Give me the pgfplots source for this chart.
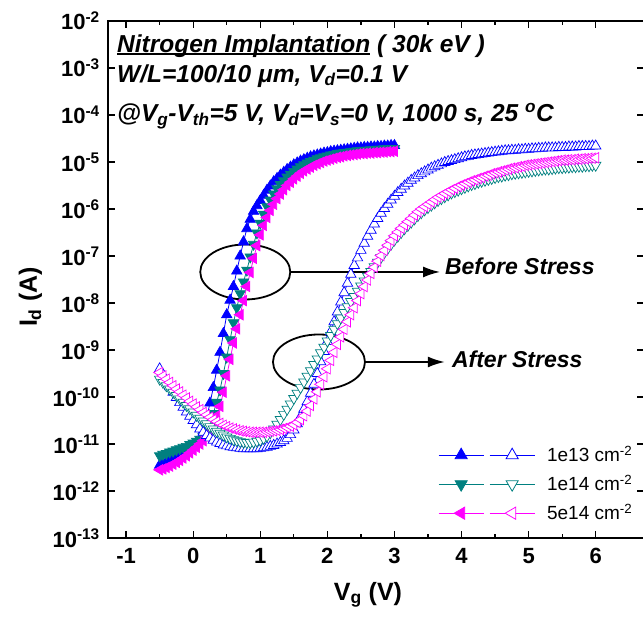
\documentclass[border=0pt]{standalone}
\usepackage{fontspec}
\setmainfont{Liberation Sans}
\usepackage{pgfplots}
\usepackage{pgfplotstable}
\pgfplotsset{compat=1.18}
\usetikzlibrary{arrows.meta}
\definecolor{cblue}{RGB}{0,0,255}
\definecolor{cteal}{RGB}{0,128,128}
\definecolor{cmag}{RGB}{255,0,255}
\newcommand\ulnit[1]{\setbox0\hbox{#1}\rlap{\rule[-3pt]{\wd0}{1.6pt}}\box0\relax}

% log10(Id) vs Vg, before stress (filled) and after stress (open)
\pgfplotstableread{
x y
-0.50 -11.45
-0.45 -11.41
-0.40 -11.38
-0.35 -11.34
-0.30 -11.30
-0.25 -11.26
-0.20 -11.22
-0.15 -11.17
-0.10 -11.12
-0.05 -11.07
0.00 -11.02
0.05 -10.97
0.10 -10.90
0.15 -10.72
0.20 -10.45
0.25 -10.13
0.30 -9.80
0.35 -9.43
0.40 -9.05
0.45 -8.65
0.50 -8.25
0.55 -7.94
0.60 -7.65
0.65 -7.32
0.70 -7.00
0.75 -6.70
0.80 -6.42
0.85 -6.22
0.90 -6.05
0.95 -5.93
1.00 -5.82
1.05 -5.71
1.10 -5.60
1.15 -5.51
1.20 -5.42
1.25 -5.35
1.30 -5.28
1.35 -5.22
1.40 -5.16
1.45 -5.11
1.50 -5.06
1.55 -5.02
1.60 -4.98
1.65 -4.95
1.70 -4.92
1.75 -4.89
1.80 -4.87
1.85 -4.85
1.90 -4.83
1.95 -4.81
2.00 -4.80
2.05 -4.78
2.10 -4.77
2.15 -4.76
2.20 -4.75
2.25 -4.74
2.30 -4.73
2.35 -4.72
2.40 -4.71
2.45 -4.70
2.50 -4.70
2.55 -4.69
2.60 -4.69
2.65 -4.68
2.70 -4.68
2.75 -4.67
2.80 -4.67
2.85 -4.66
2.90 -4.66
2.95 -4.65
3.00 -4.65
}\bfil
\pgfplotstableread{
x y
-0.50 -11.25
-0.45 -11.22
-0.40 -11.20
-0.35 -11.17
-0.30 -11.15
-0.25 -11.12
-0.20 -11.10
-0.15 -11.07
-0.10 -11.05
-0.05 -11.01
0.00 -10.98
0.05 -10.94
0.10 -10.90
0.15 -10.84
0.20 -10.75
0.25 -10.57
0.30 -10.35
0.35 -10.11
0.40 -9.85
0.45 -9.50
0.50 -9.15
0.55 -8.78
0.60 -8.42
0.65 -8.10
0.70 -7.80
0.75 -7.55
0.80 -7.30
0.85 -7.02
0.90 -6.75
0.95 -6.51
1.00 -6.30
1.05 -6.11
1.10 -5.95
1.15 -5.81
1.20 -5.68
1.25 -5.57
1.30 -5.48
1.35 -5.40
1.40 -5.32
1.45 -5.26
1.50 -5.20
1.55 -5.15
1.60 -5.10
1.65 -5.06
1.70 -5.02
1.75 -4.99
1.80 -4.96
1.85 -4.93
1.90 -4.91
1.95 -4.89
2.00 -4.87
2.05 -4.85
2.10 -4.84
2.15 -4.82
2.20 -4.81
2.25 -4.80
2.30 -4.79
2.35 -4.78
2.40 -4.77
2.45 -4.76
2.50 -4.76
2.55 -4.75
2.60 -4.75
2.65 -4.74
2.70 -4.74
2.75 -4.73
2.80 -4.73
2.85 -4.72
2.90 -4.72
2.95 -4.71
3.00 -4.71
}\tfil
\pgfplotstableread{
x y
-0.50 -11.55
-0.45 -11.53
-0.40 -11.50
-0.35 -11.47
-0.30 -11.43
-0.25 -11.39
-0.20 -11.35
-0.15 -11.30
-0.10 -11.25
-0.05 -11.19
0.00 -11.13
0.05 -11.07
0.10 -11.00
0.15 -10.93
0.20 -10.85
0.25 -10.72
0.30 -10.55
0.35 -10.40
0.40 -10.20
0.45 -9.90
0.50 -9.55
0.55 -9.20
0.60 -8.85
0.65 -8.55
0.70 -8.25
0.75 -7.95
0.80 -7.65
0.85 -7.35
0.90 -7.05
0.95 -6.78
1.00 -6.55
1.05 -6.35
1.10 -6.18
1.15 -6.03
1.20 -5.90
1.25 -5.78
1.30 -5.68
1.35 -5.59
1.40 -5.50
1.45 -5.43
1.50 -5.36
1.55 -5.30
1.60 -5.24
1.65 -5.19
1.70 -5.15
1.75 -5.11
1.80 -5.07
1.85 -5.04
1.90 -5.01
1.95 -4.98
2.00 -4.96
2.05 -4.94
2.10 -4.92
2.15 -4.90
2.20 -4.89
2.25 -4.87
2.30 -4.86
2.35 -4.85
2.40 -4.84
2.45 -4.83
2.50 -4.82
2.55 -4.82
2.60 -4.81
2.65 -4.81
2.70 -4.80
2.75 -4.80
2.80 -4.79
2.85 -4.79
2.90 -4.78
2.95 -4.78
3.00 -4.77
}\mfil
\pgfplotstableread{
x y
-0.50 -9.40
-0.45 -9.53
-0.40 -9.65
-0.35 -9.78
-0.30 -9.90
-0.25 -10.01
-0.20 -10.12
-0.15 -10.22
-0.10 -10.32
-0.05 -10.41
0.00 -10.50
0.05 -10.59
0.10 -10.68
0.15 -10.75
0.20 -10.82
0.25 -10.87
0.30 -10.92
0.35 -10.96
0.40 -10.99
0.45 -11.02
0.50 -11.04
0.55 -11.06
0.60 -11.07
0.65 -11.08
0.70 -11.09
0.75 -11.10
0.80 -11.10
0.85 -11.10
0.90 -11.10
0.95 -11.10
1.00 -11.09
1.05 -11.08
1.10 -11.07
1.15 -11.05
1.20 -11.03
1.25 -11.00
1.30 -10.97
1.35 -10.93
1.40 -10.88
1.45 -10.80
1.50 -10.70
1.55 -10.57
1.60 -10.42
1.65 -10.26
1.70 -10.10
1.75 -9.92
1.80 -9.73
1.85 -9.50
1.90 -9.25
1.95 -9.03
2.00 -8.82
2.05 -8.61
2.10 -8.40
2.15 -8.19
2.20 -7.98
2.25 -7.78
2.30 -7.58
2.35 -7.39
2.40 -7.20
2.45 -7.04
2.50 -6.88
2.55 -6.73
2.60 -6.58
2.65 -6.45
2.70 -6.32
2.75 -6.20
2.80 -6.09
2.85 -5.99
2.90 -5.90
2.95 -5.81
3.00 -5.73
3.05 -5.65
3.10 -5.58
3.15 -5.51
3.20 -5.45
3.25 -5.39
3.30 -5.34
3.35 -5.29
3.40 -5.25
3.45 -5.21
3.50 -5.17
3.55 -5.13
3.60 -5.10
3.65 -5.07
3.70 -5.04
3.75 -5.01
3.80 -4.99
3.85 -4.97
3.90 -4.95
3.95 -4.93
4.00 -4.91
4.05 -4.89
4.10 -4.88
4.15 -4.86
4.20 -4.85
4.25 -4.84
4.30 -4.83
4.35 -4.82
4.40 -4.81
4.45 -4.80
4.50 -4.79
4.55 -4.78
4.60 -4.77
4.65 -4.76
4.70 -4.76
4.75 -4.75
4.80 -4.75
4.85 -4.74
4.90 -4.74
4.95 -4.73
5.00 -4.73
5.05 -4.72
5.10 -4.72
5.15 -4.71
5.20 -4.71
5.25 -4.70
5.30 -4.70
5.35 -4.70
5.40 -4.70
5.45 -4.69
5.50 -4.69
5.55 -4.69
5.60 -4.68
5.65 -4.68
5.70 -4.68
5.75 -4.67
5.80 -4.67
5.85 -4.67
5.90 -4.67
5.95 -4.66
6.00 -4.66
}\bope
\pgfplotstableread{
x y
-0.50 -9.62
-0.45 -9.69
-0.40 -9.76
-0.35 -9.83
-0.30 -9.90
-0.25 -9.97
-0.20 -10.04
-0.15 -10.11
-0.10 -10.18
-0.05 -10.25
0.00 -10.32
0.05 -10.39
0.10 -10.45
0.15 -10.51
0.20 -10.57
0.25 -10.63
0.30 -10.68
0.35 -10.73
0.40 -10.77
0.45 -10.81
0.50 -10.85
0.55 -10.88
0.60 -10.91
0.65 -10.93
0.70 -10.95
0.75 -10.96
0.80 -10.97
0.85 -10.97
0.90 -10.96
0.95 -10.94
1.00 -10.92
1.05 -10.88
1.10 -10.83
1.15 -10.76
1.20 -10.68
1.25 -10.58
1.30 -10.48
1.35 -10.37
1.40 -10.26
1.45 -10.15
1.50 -10.03
1.55 -9.92
1.60 -9.80
1.65 -9.68
1.70 -9.56
1.75 -9.44
1.80 -9.31
1.85 -9.19
1.90 -9.06
1.95 -8.94
2.00 -8.81
2.05 -8.69
2.10 -8.56
2.15 -8.44
2.20 -8.32
2.25 -8.20
2.30 -8.08
2.35 -7.97
2.40 -7.86
2.45 -7.75
2.50 -7.64
2.55 -7.53
2.60 -7.43
2.65 -7.33
2.70 -7.23
2.75 -7.13
2.80 -7.03
2.85 -6.93
2.90 -6.84
2.95 -6.75
3.00 -6.66
3.05 -6.58
3.10 -6.50
3.15 -6.42
3.20 -6.35
3.25 -6.28
3.30 -6.21
3.35 -6.14
3.40 -6.08
3.45 -6.02
3.50 -5.97
3.55 -5.92
3.60 -5.87
3.65 -5.82
3.70 -5.78
3.75 -5.74
3.80 -5.70
3.85 -5.66
3.90 -5.63
3.95 -5.60
4.00 -5.57
4.05 -5.54
4.10 -5.51
4.15 -5.48
4.20 -5.46
4.25 -5.43
4.30 -5.41
4.35 -5.39
4.40 -5.37
4.45 -5.35
4.50 -5.33
4.55 -5.31
4.60 -5.30
4.65 -5.28
4.70 -5.27
4.75 -5.25
4.80 -5.24
4.85 -5.23
4.90 -5.22
4.95 -5.21
5.00 -5.20
5.05 -5.19
5.10 -5.18
5.15 -5.17
5.20 -5.16
5.25 -5.15
5.30 -5.15
5.35 -5.14
5.40 -5.13
5.45 -5.12
5.50 -5.12
5.55 -5.11
5.60 -5.11
5.65 -5.10
5.70 -5.10
5.75 -5.09
5.80 -5.09
5.85 -5.08
5.90 -5.08
5.95 -5.07
6.00 -5.07
}\tope
\pgfplotstableread{
x y
-0.50 -9.48
-0.45 -9.55
-0.40 -9.62
-0.35 -9.69
-0.30 -9.76
-0.25 -9.83
-0.20 -9.89
-0.15 -9.96
-0.10 -10.02
-0.05 -10.09
0.00 -10.15
0.05 -10.21
0.10 -10.27
0.15 -10.33
0.20 -10.38
0.25 -10.43
0.30 -10.48
0.35 -10.52
0.40 -10.56
0.45 -10.60
0.50 -10.63
0.55 -10.66
0.60 -10.68
0.65 -10.70
0.70 -10.72
0.75 -10.73
0.80 -10.74
0.85 -10.75
0.90 -10.75
0.95 -10.75
1.00 -10.75
1.05 -10.75
1.10 -10.74
1.15 -10.73
1.20 -10.72
1.25 -10.71
1.30 -10.69
1.35 -10.67
1.40 -10.65
1.45 -10.62
1.50 -10.59
1.55 -10.54
1.60 -10.48
1.65 -10.40
1.70 -10.30
1.75 -10.18
1.80 -10.04
1.85 -9.89
1.90 -9.73
1.95 -9.57
2.00 -9.40
2.05 -9.22
2.10 -9.05
2.15 -8.88
2.20 -8.72
2.25 -8.56
2.30 -8.40
2.35 -8.25
2.40 -8.10
2.45 -7.95
2.50 -7.80
2.55 -7.65
2.60 -7.51
2.65 -7.37
2.70 -7.24
2.75 -7.11
2.80 -6.99
2.85 -6.88
2.90 -6.77
2.95 -6.67
3.00 -6.57
3.05 -6.49
3.10 -6.41
3.15 -6.34
3.20 -6.27
3.25 -6.20
3.30 -6.13
3.35 -6.06
3.40 -6.00
3.45 -5.95
3.50 -5.90
3.55 -5.85
3.60 -5.80
3.65 -5.75
3.70 -5.71
3.75 -5.67
3.80 -5.63
3.85 -5.59
3.90 -5.56
3.95 -5.52
4.00 -5.49
4.05 -5.46
4.10 -5.43
4.15 -5.40
4.20 -5.38
4.25 -5.35
4.30 -5.33
4.35 -5.30
4.40 -5.28
4.45 -5.25
4.50 -5.23
4.55 -5.21
4.60 -5.19
4.65 -5.17
4.70 -5.15
4.75 -5.13
4.80 -5.12
4.85 -5.10
4.90 -5.09
4.95 -5.07
5.00 -5.06
5.05 -5.05
5.10 -5.04
5.15 -5.03
5.20 -5.02
5.25 -5.01
5.30 -5.00
5.35 -4.99
5.40 -4.98
5.45 -4.97
5.50 -4.96
5.55 -4.96
5.60 -4.95
5.65 -4.95
5.70 -4.94
5.75 -4.94
5.80 -4.93
5.85 -4.93
5.90 -4.92
5.95 -4.92
6.00 -4.91
}\mope

\pgfplotsset{
  ser/.style n args={3}{color=#1, line width=0.8pt, mark=triangle*, mark size=6pt,
    mark options={rotate=#2, fill=#3, line width=0.7pt, solid}},
  pairleg/.style n args={2}{legend image code/.code={
    \draw[#1,line width=0.9pt] (0pt,0pt)--(45pt,0pt) (51pt,0pt)--(96pt,0pt);
    \draw[#1,fill=#1,line width=0.8pt] plot[only marks,mark=triangle*,mark size=7pt,mark options={rotate=#2}] coordinates {(22.5pt,0pt)};
    \draw[#1,fill=white,line width=0.8pt] plot[only marks,mark=triangle*,mark size=7pt,mark options={rotate=#2}] coordinates {(73.5pt,0pt)};
  }}
}

\begin{document}
\begin{tikzpicture}
\begin{axis}[
  width=536pt, height=517pt, scale only axis,
  xmin=-1.27, xmax=6.72, ymin=-13, ymax=-2,
  xtick={-1,0,1,2,3,4,5,6}, xticklabels={-1,0,1,2,3,4,5,6},
  minor x tick num=1,
  ytick={-13,-12,-11,-10,-9,-8,-7,-6,-5,-4,-3,-2},
  yticklabels={10\textsuperscript{-13},10\textsuperscript{-12},10\textsuperscript{-11},10\textsuperscript{-10},10\textsuperscript{-9},10\textsuperscript{-8},10\textsuperscript{-7},10\textsuperscript{-6},10\textsuperscript{-5},10\textsuperscript{-4},10\textsuperscript{-3},10\textsuperscript{-2}},
  tick align=inside, major tick length=7pt, minor tick length=4pt,
  every tick/.style={black, line width=1.3pt},
  axis line style={line width=1.7pt},
  xticklabel style={font=\bfseries\fontsize{22}{22}\selectfont, anchor=base, inner sep=0pt, yshift=-25pt},
  yticklabel style={font=\bfseries\fontsize{22}{22}\selectfont, anchor=base east, inner sep=0pt, xshift=-8pt, yshift=-9pt},
  xlabel={V\textsubscript{g} (V)}, ylabel={I\textsubscript{d} (A)},
  xlabel style={font=\bfseries\fontsize{25}{25}\selectfont, at={(rel axis cs:0.485,0)}, anchor=base, inner sep=0pt, yshift=-62pt},
  ylabel style={font=\bfseries\fontsize{25}{25}\selectfont, at={(rel axis cs:-0.1325,0.466)}, anchor=base, inner sep=0pt},
  legend style={draw=none, fill=none, inner sep=0pt, at={(0.6157,0.1886)}, anchor=north west,
    font=\fontsize{19}{19}\selectfont, row sep=0pt,
    nodes={inner sep=0pt, text height=21.3pt, text depth=7.7pt},
    /tikz/every odd column/.append style={column sep=12pt}},
  legend cell align=left,
]
\coordinate (sw) at (rel axis cs:0,0);
\coordinate (ne) at (rel axis cs:1,1);
\addplot[ser={cblue}{0}{cblue}, pairleg={cblue}{0}] table {\bfil};
\addlegendentry{1e13 cm\textsuperscript{-2}}
\addplot[ser={cteal}{180}{cteal}, pairleg={cteal}{180}] table {\tfil};
\addlegendentry{1e14 cm\textsuperscript{-2}}
\addplot[ser={cmag}{90}{cmag}, pairleg={cmag}{90}] table {\mfil};
\addlegendentry{5e14 cm\textsuperscript{-2}}
\addplot[ser={cblue}{0}{white}, forget plot] table {\bope};
\addplot[ser={cteal}{180}{white}, forget plot] table {\tope};
\addplot[ser={cmag}{90}{white}, forget plot] table {\mope};

\draw[line width=1.8pt] (axis cs:0.776,-7.34) ellipse [x radius=45pt, y radius=27.5pt];
\draw[line width=1.8pt, -{Latex[length=17pt,width=11pt]}] (axis cs:1.443,-7.34) -- (axis cs:3.68,-7.34);
\node[anchor=base west, inner sep=0pt, font=\bfseries\itshape\fontsize{23}{23}\selectfont] at (axis cs:3.751,-7.404) {Before Stress};
\draw[line width=1.8pt] (axis cs:1.875,-9.255) ellipse [x radius=46pt, y radius=27.5pt];
\draw[line width=1.8pt, -{Latex[length=17pt,width=11pt]}] (axis cs:2.56,-9.255) -- (axis cs:3.75,-9.255);
\node[anchor=base west, inner sep=0pt, font=\bfseries\itshape\fontsize{23}{23}\selectfont] at (axis cs:3.856,-9.362) {After Stress};

\node[anchor=base west, inner sep=0pt, font=\bfseries\itshape\fontsize{24.5}{24.5}\selectfont] at (rel axis cs:0.0168,0.940) {\ulnit{Nitrogen Implantation} ( 30k eV )};
\node[anchor=base west, inner sep=0pt, font=\bfseries\itshape\fontsize{24.5}{24.5}\selectfont] at (rel axis cs:0.0168,0.882) {W/L=100/10 μm, V\textsubscript{d}=0.1 V};
\node[anchor=base west, inner sep=0pt, font=\bfseries\itshape\fontsize{24.5}{24.5}\selectfont] at (rel axis cs:0.0168,0.805) {@V\textsubscript{g}-V\textsubscript{th}=5 V, V\textsubscript{d}=V\textsubscript{s}=0 V, 1000 s, 25 \textsuperscript{o}C};
\end{axis}
\pgfresetboundingbox
\path[use as bounding box] ([shift={(-108pt,-84pt)}]sw) rectangle ([shift={(-1pt,21pt)}]ne);
\end{tikzpicture}
\end{document}
